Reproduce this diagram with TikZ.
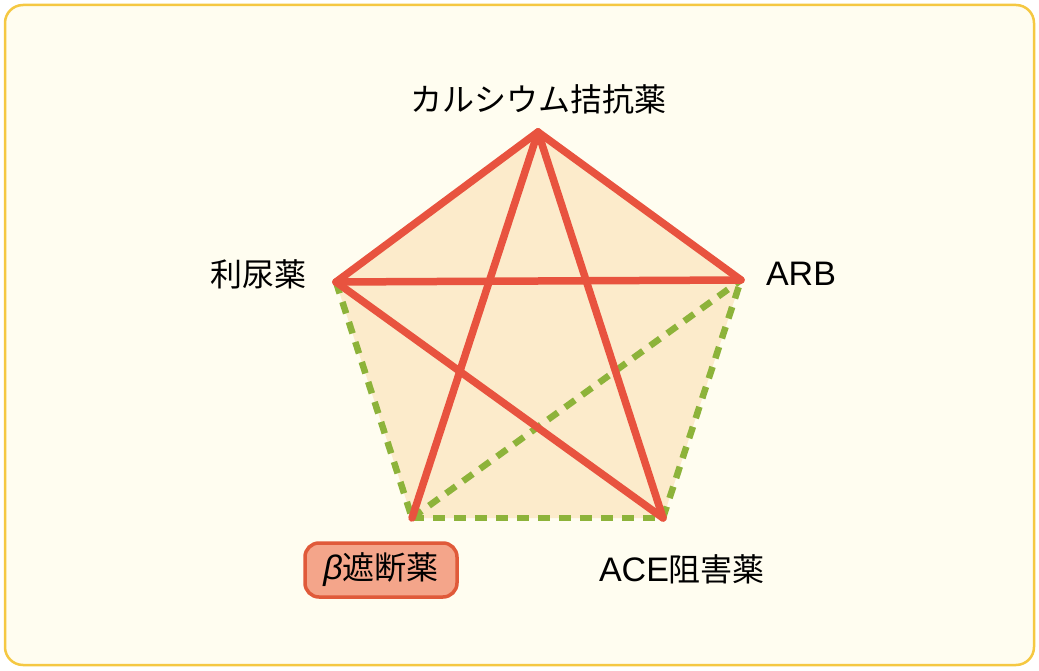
\documentclass[tikz,border=0pt]{standalone}
\usepackage{fontspec}
\setmainfont{Noto Sans CJK JP}
\newfontfamily\latinfont{Liberation Sans}
\begin{document}
\begin{tikzpicture}[x=1pt,y=1pt,
  redline/.style={draw=lred,line width=7.5pt,line cap=round,line join=miter},
  greenline/.style={draw=lgreen,line width=6.5pt,dash pattern=on 12pt off 9pt},
  lbl/.style={font=\fontsize{32}{36}\selectfont,text=black,inner sep=0pt}]
\definecolor{lred}{HTML}{E8533F}
\definecolor{lgreen}{HTML}{8DB33A}
\definecolor{bgfill}{HTML}{FFFDF0}
\definecolor{frame}{HTML}{F5C842}
\definecolor{pfill}{HTML}{FCEBCB}
\definecolor{boxfill}{HTML}{F4A58A}
\definecolor{boxdraw}{HTML}{E05A3A}
\useasboundingbox (0,0) rectangle (1039,670);
\draw[frame,fill=bgfill,line width=2.5pt,rounded corners=18pt] (5,5) rectangle (1034,665);
\coordinate (T) at (538,538);
\coordinate (L) at (336,388);
\coordinate (R) at (741,390);
\coordinate (BL) at (412,152);
\coordinate (BR) at (663,152);
\fill[pfill] (T) -- (R) -- (BR) -- (BL) -- (L) -- cycle;
\draw[greenline] (L) -- (BL);
\draw[greenline] (BL) -- (BR);
\draw[greenline] (BR) -- (R);
\draw[greenline] (BL) -- (R);
\draw[redline] (T) -- (L);
\draw[redline] (T) -- (R);
\draw[redline] (L) -- (R);
\draw[redline] (T) -- (BL);
\draw[redline] (T) -- (BR);
\draw[redline] (L) -- (BR);
\node[lbl] (nT) at (538,571) {カルシウム拮抗薬};
\node[lbl] (nL) at (258,396) {利尿薬};
\node[lbl] (nR) at (801,396) {{\latinfont\fontsize{34}{36}\selectfont ARB}};
\node[lbl] (nBR) at (682,101) {{\latinfont\fontsize{34}{36}\selectfont ACE}阻害薬};
\node[lbl,fill=boxfill,draw=boxdraw,line width=3.5pt,rounded corners=14pt,minimum width=152pt,minimum height=54pt] (nBL) at (381,100) {{\latinfont\itshape\fontsize{34}{36}\selectfont β}遮断薬};
\end{tikzpicture}
\end{document}
